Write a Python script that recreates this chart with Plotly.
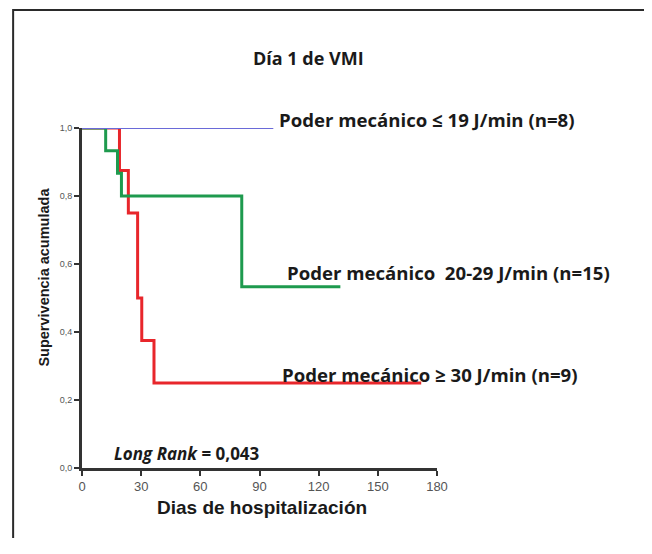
import plotly.graph_objects as go

# --- data ---
blue_days = [0, 97]
blue_surv = [1.0, 1.0]

green_days = [0, 12, 18, 20, 81, 131]
green_surv = [1.0, 0.933, 0.867, 0.8, 0.533, 0.533]

red_days = [0, 19, 23.5, 28.2, 30.3, 36.5, 172]
red_surv = [1.0, 0.875, 0.75, 0.5, 0.375, 0.25, 0.25]

x_ticks = [0, 30, 60, 90, 120, 150, 180]
y_ticks = [0.0, 0.2, 0.4, 0.6, 0.8, 1.0]
y_tick_labels = ["0,0", "0,2", "0,4", "0,6", "0,8", "1,0"]

labels = [
    "Poder mecánico ≤ 19 J/min (n=8)",
    "Poder mecánico  20-29 J/min (n=15)",
    "Poder mecánico ≥ 30 J/min (n=9)",
]
title_text = "Día 1 de VMI"
x_title = "Dias de hospitalización"
y_title = "Supervivencia acumulada"

fig = go.Figure()
fig.add_trace(go.Scatter(x=red_days, y=red_surv, mode="lines", line=dict(shape="hv", color="#e8262b", width=3),
                         cliponaxis=False, showlegend=False))
fig.add_trace(go.Scatter(x=green_days, y=green_surv, mode="lines", line=dict(shape="hv", color="#1e9a4e", width=3),
                         cliponaxis=False, showlegend=False))
fig.add_trace(go.Scatter(x=blue_days, y=blue_surv, mode="lines", line=dict(shape="hv", color="#6a6ad8", width=2),
                         cliponaxis=False, showlegend=False))

lab_font = dict(family="Open Sans", size=18.6, color="#1a1a1a")
fig.add_annotation(x=0.549, y=1.024, xref="paper", yref="paper", text="<b>" + labels[0] + "</b>", showarrow=False,
                   xanchor="left", yanchor="middle", font=lab_font)
fig.add_annotation(x=0.572, y=0.574, xref="paper", yref="paper", text="<b>" + labels[1] + "</b>", showarrow=False,
                   xanchor="left", yanchor="middle", font=lab_font)
fig.add_annotation(x=0.558, y=0.274, xref="paper", yref="paper", text="<b>" + labels[2] + "</b>", showarrow=False,
                   xanchor="left", yanchor="middle", font=lab_font)
fig.add_annotation(x=0.0845, y=0.044, xref="paper", yref="paper", text="<b><i>Long Rank</i> = 0,043</b>",
                   showarrow=False, xanchor="left", yanchor="middle",
                   font=dict(family="Open Sans", size=17, color="#1a1a1a"))
fig.add_annotation(x=0.637, y=1.206, xref="paper", yref="paper", text="<b>" + title_text + "</b>", showarrow=False,
                   xanchor="center", yanchor="middle", font=dict(family="Open Sans", size=18, color="#1a1a1a"))
fig.add_annotation(x=0.507, y=-0.115, xref="paper", yref="paper", text="<b>" + x_title + "</b>", showarrow=False,
                   xanchor="center", yanchor="middle",
                   font=dict(family="Liberation Sans", size=19, color="#1a1a1a"))
fig.add_annotation(x=-0.107, y=0.56, xref="paper", yref="paper", text="<b>" + y_title + "</b>", showarrow=False,
                   xanchor="center", yanchor="middle", textangle=-90,
                   font=dict(family="Liberation Sans", size=14.5, color="#1a1a1a"))

# open frame (left, top, right)
fig.add_shape(type="path", xref="paper", yref="paper",
              path="M -0.194 -0.3 L -0.194 1.347 L 1.595 1.347 L 1.595 -0.3",
              line=dict(color="#2a2a2a", width=2))

fig.update_layout(
    width=644, height=530,
    margin=dict(l=74, r=215, t=120, b=70, autoexpand=False),
    paper_bgcolor="white", plot_bgcolor="white",
    xaxis=dict(range=[0, 180], tickvals=x_ticks, ticks="outside", ticklen=5, tickwidth=2, tickcolor="#333",
               showline=True, linecolor="#333", linewidth=2.5, showgrid=False, zeroline=False,
               tickfont=dict(family="Liberation Sans", size=13, color="#555")),
    yaxis=dict(range=[0, 1], tickvals=y_ticks, ticktext=y_tick_labels, ticks="outside", ticklen=5, tickwidth=2,
               tickcolor="#333", showline=True, linecolor="#333", linewidth=3, showgrid=False, zeroline=False,
               tickfont=dict(family="Liberation Sans", size=9, color="#555")),
)

fig.write_html("out.html")
